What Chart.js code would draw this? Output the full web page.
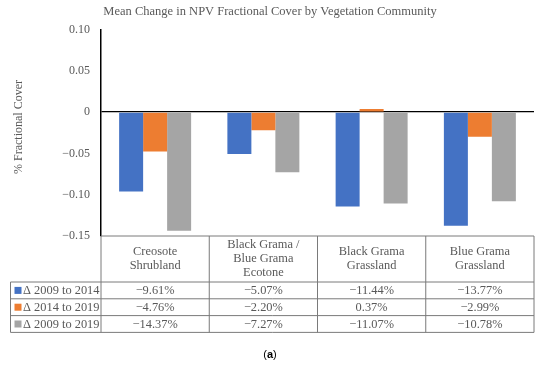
<!DOCTYPE html>
<html>
<head>
<meta charset="utf-8">
<script src="https://cdn.jsdelivr.net/npm/chart.js@4.4.1/dist/chart.umd.min.js"></script>
<style>
  html, body { margin: 0; padding: 0; background: #fff; }
  #wrap { width: 550px; height: 368px; position: relative; }
</style>
</head>
<body>
<div id="wrap"><canvas id="npv-chart"></canvas></div>
<script>
  const categories = [
    ["Creosote", "Shrubland"],
    ["Black Grama /", "Blue Grama", "Ecotone"],
    ["Black Grama", "Grassland"],
    ["Blue Grama", "Grassland"]
  ];
  const seriesNames = ["\u0394 2009 to 2014", "\u0394 2014 to 2019", "\u0394 2009 to 2019"];
  const change0914 = [-0.0961, -0.0507, -0.1144, -0.1377];
  const change1419 = [-0.0476, -0.0220, 0.0037, -0.0299];
  const change0919 = [-0.1437, -0.0727, -0.1107, -0.1078];
  const seriesColors = ["#4472C4", "#ED7D31", "#A5A5A5"];
  const yTickValues = [-0.15, -0.10, -0.05, 0, 0.05, 0.10];
  const yTickLabels = ["\u22120.15", "\u22120.10", "\u22120.05", "0", "0.05", "0.10"];
  const yAxisTitle = "% Fractional Cover";

  const SERIF = "'Liberation Serif', 'Times New Roman', serif";
  const TEXT = "#595959";
  const LINE = "#7a7a7a";

  Chart.defaults.font.family = SERIF;
  Chart.defaults.color = TEXT;

  const fmtPct = v => {
    const s = (Math.abs(v) * 100).toFixed(2) + "%";
    return v < 0 ? "\u2212" + s : s;
  };

  // draws the data table under the plot, column edges taken from the x scale
  const dataTable = {
    id: "dataTable",
    afterDraw(chart) {
      const { ctx, chartArea: a, scales: { x } } = chart;
      const colW = x.getPixelForValue(1) - x.getPixelForValue(0);
      const headTop = a.bottom;
      const headBottom = a.bottom + 46;
      const rowH = 16.8;
      const tableLeft = 10.5;
      const tableBottom = headBottom + rowH * 3;
      const series = chart.data.datasets;

      ctx.save();
      ctx.strokeStyle = LINE;
      ctx.lineWidth = 1;
      ctx.beginPath();
      ctx.moveTo(a.left, headTop); ctx.lineTo(a.right, headTop);
      for (let r = 0; r <= 3; r++) {
        const y = headBottom + r * rowH;
        ctx.moveTo(tableLeft, y); ctx.lineTo(a.right, y);
      }
      ctx.moveTo(tableLeft, headBottom); ctx.lineTo(tableLeft, tableBottom);
      for (let i = 0; i <= categories.length; i++) {
        const cx = x.getPixelForValue(i) - colW / 2;
        ctx.moveTo(cx, headTop); ctx.lineTo(cx, tableBottom);
      }
      ctx.stroke();

      ctx.fillStyle = TEXT;
      ctx.font = "12.4px " + SERIF;
      ctx.textAlign = "center";
      ctx.textBaseline = "middle";
      const headMid = (headTop + headBottom) / 2;
      categories.forEach((lines, i) => {
        const cx = x.getPixelForValue(i);
        lines.forEach((t, k) => {
          ctx.fillText(t, cx, headMid + (k - (lines.length - 1) / 2) * 14);
        });
      });

      series.forEach((ds, r) => {
        const cy = headBottom + rowH * (r + 0.5);
        ctx.fillStyle = ds.backgroundColor;
        ctx.fillRect(14.5, cy - 3.5, 7, 7);
        ctx.fillStyle = TEXT;
        ctx.textAlign = "left";
        ctx.fillText(ds.label, 23, cy + 0.5);
        ctx.textAlign = "center";
        ds.data.forEach((v, i) => ctx.fillText(fmtPct(v), x.getPixelForValue(i), cy + 0.5));
      });

      // y axis title, sits a little above the plot's middle in the original
      ctx.save();
      ctx.translate(19, 127);
      ctx.rotate(-Math.PI / 2);
      ctx.font = "12px " + SERIF;
      ctx.fillText(yAxisTitle, 0, 0);
      ctx.restore();

      // panel label
      ctx.fillStyle = "#000";
      ctx.textAlign = "left";
      ctx.font = "11px 'Liberation Sans', Arial, sans-serif";
      const p1 = ctx.measureText("(").width;
      ctx.font = "bold 11px 'Liberation Sans', Arial, sans-serif";
      const pa = ctx.measureText("a").width;
      const startX = 270 - (p1 * 2 + pa) / 2;
      ctx.font = "11px 'Liberation Sans', Arial, sans-serif";
      ctx.fillText("(", startX, 355);
      ctx.fillText(")", startX + p1 + pa, 355);
      ctx.font = "bold 11px 'Liberation Sans', Arial, sans-serif";
      ctx.fillText("a", startX + p1, 355);
      ctx.restore();
    }
  };

  new Chart(document.getElementById("npv-chart"), {
    type: "bar",
    data: {
      labels: categories,
      datasets: [
        { label: seriesNames[0], data: change0914, backgroundColor: seriesColors[0] },
        { label: seriesNames[1], data: change1419, backgroundColor: seriesColors[1] },
        { label: seriesNames[2], data: change0919, backgroundColor: seriesColors[2] }
      ]
    },
    options: {
      responsive: true,
      maintainAspectRatio: false,
      animation: false,
      categoryPercentage: 0.665,
      barPercentage: 1.0,
      layout: { padding: { top: 0, left: 6, right: 16, bottom: 132 } },
      plugins: {
        legend: { display: false },
        tooltip: { enabled: false },
        title: {
          display: true,
          text: "Mean Change in NPV Fractional Cover by Vegetation Community",
          color: TEXT,
          font: { size: 12.5, weight: "normal", lineHeight: 1.2 },
          padding: { top: 4.5, bottom: 10 }
        }
      },
      scales: {
        x: { display: false },
        y: {
          min: -0.15,
          max: 0.10,
          ticks: {
            stepSize: 0.05,
            color: TEXT,
            font: { size: 12 },
            padding: 11,
            callback: v => {
              let best = 0;
              yTickValues.forEach((t, i) => { if (Math.abs(t - v) < Math.abs(yTickValues[best] - v)) best = i; });
              return yTickLabels[best];
            }
          },
          grid: {
            drawTicks: false,
            color: c => (c.tick && Math.abs(c.tick.value) < 1e-9 ? "#000" : "rgba(0,0,0,0)"),
            lineWidth: 1.3
          },
          border: { display: true, color: "#000", width: 1.5 },
          afterFit: s => { s.width = 95; }
        }
      }
    },
    plugins: [dataTable]
  });
</script>
</body>
</html>
